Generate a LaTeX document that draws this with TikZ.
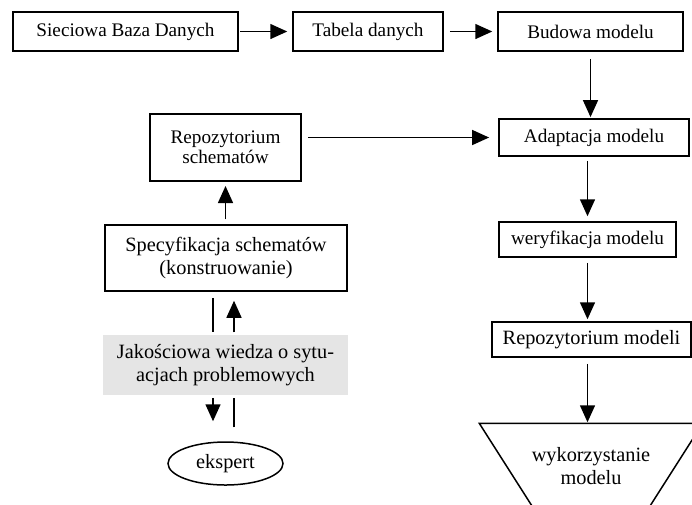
\documentclass[tikz,border=0pt]{standalone}
\usepackage{fontspec}
\setmainfont{Liberation Serif}
\usetikzlibrary{arrows.meta,shapes.geometric}

\def\rowh{39pt}

\begin{document}
\begin{tikzpicture}[x=1pt,y=-1pt,line width=1.5pt,>={Triangle[length=17pt,width=15pt]}]
    \tikzstyle{blok}=[draw,rectangle,inner sep=0pt,align=center]
    \tikzstyle{maly}=[font=\fontsize{19.2}{20}\selectfont]
    \tikzstyle{duzy}=[font=\fontsize{20.3}{23}\selectfont]
    \tikzstyle{strzalka}=[->,shorten <=5pt,shorten >=3pt]
    \tikzstyle{linia}=[shorten <=6pt,shorten >=2pt]

    \useasboundingbox (0,0) rectangle (692,504);
    \clip (0,0) rectangle (692,504);

    % Draw the top row
    \node[blok,maly,line width=2pt,minimum width=225pt,minimum height=\rowh] (siec) at (125.5,31.5) {Sieciowa Baza Danych};
    \node[blok,maly,minimum width=150pt,minimum height=\rowh] (tabela) at (368,31.5) {Tabela danych};
    \node[blok,maly,minimum width=185pt,minimum height=\rowh] (budowa) at (590.5,31.5) {Budowa modelu};

    % Draw the right column
    \node[blok,maly,line width=1.8pt,minimum width=190pt,minimum height=37pt] (adaptacja) at (594,137.5) {Adaptacja modelu};
    \node[blok,maly,minimum width=177pt,minimum height=35pt] (weryfikacja) at (587.5,239.5) {weryfikacja modelu};
    \node[blok,duzy,minimum width=199pt,minimum height=35pt] (repmodeli) at (591.5,339.5) {Repozytorium modeli};
    \node[duzy,align=center,inner sep=0pt,minimum width=222pt,minimum height=84pt] (uzycie) at (591,466) {wykorzystanie\\modelu};
    \draw (uzycie.north west) -- (uzycie.north east) -- ([xshift=-54.5pt]uzycie.south east)
        -- ([xshift=54.5pt]uzycie.south west) -- cycle;

    % Draw the left column
    \node[blok,maly,line width=2pt,minimum width=151pt,minimum height=67pt] (repschem) at (225.5,147.5) {Repozytorium\\schematów};
    \node[blok,duzy,minimum width=242pt,minimum height=66pt] (specyf) at (226,258) {Specyfikacja schematów\\(konstruowanie)};
    \node[duzy,align=center,fill=gray!20,inner sep=0pt,minimum width=245pt,minimum height=60pt] (wiedza) at (225.5,365) {Jakościowa wiedza o sytu-\\acjach problemowych};
    \node[draw,ellipse,duzy,inner sep=0pt,minimum width=115pt,minimum height=43pt] (ekspert) at (225.5,463.5) {ekspert};

    % Connect the top row
    \path (siec) edge[strzalka,shorten <=1pt,shorten >=5pt] (tabela);
    \path (tabela) edge[strzalka,shorten <=6pt,shorten >=5pt] (budowa);

    % Connect the right column
    \draw[strzalka,shorten <=7pt,shorten >=1pt] (budowa.south) -- (budowa.south |- adaptacja.north);
    \draw[strzalka,shorten <=4pt,shorten >=5pt] (weryfikacja.north |- adaptacja.south) -- (weryfikacja.north);
    \draw[strzalka,shorten >=2pt] (weryfikacja.south) -- (weryfikacja.south |- repmodeli.north);
    \draw[strzalka,shorten <=6pt,shorten >=1pt] (repmodeli.south -| weryfikacja.south) -- (uzycie.north -| weryfikacja.south);

    % Connect the left column
    \draw[strzalka,shorten <=6pt,shorten >=9pt] (adaptacja.west -| repschem.east) -- (adaptacja.west);
    \draw[strzalka,shorten <=5pt,shorten >=4pt] (specyf.north -| repschem.south) -- (repschem.south);
    \draw[linia] ([xshift=-13pt]specyf.south) -- ([xshift=-13pt]specyf.south |- wiedza.north);
    \draw[strzalka,shorten <=2pt,shorten >=9pt] ([xshift=8pt]specyf.south |- wiedza.north) -- ([xshift=8pt]specyf.south);
    \draw[strzalka,shorten <=2pt,shorten >=20pt] ([xshift=-13pt]specyf.south |- wiedza.south) -- ([xshift=-13pt]specyf.south |- ekspert.north);
    \draw[linia,shorten <=14pt] ([xshift=8pt]specyf.south |- ekspert.north) -- ([xshift=8pt]specyf.south |- wiedza.south);
\end{tikzpicture}
\end{document}
